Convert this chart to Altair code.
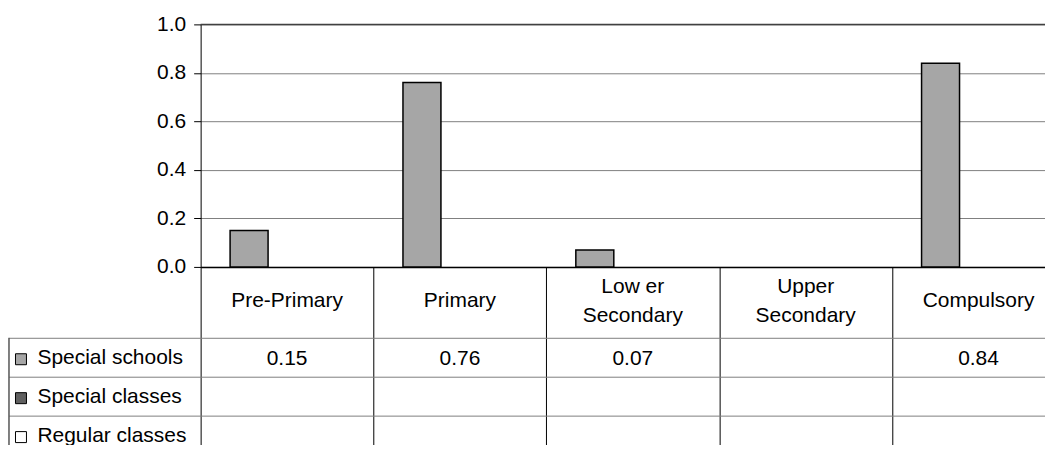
import altair as alt
import pandas as pd

categories = ["Pre-Primary", "Primary", "Low er\nSecondary", "Upper\nSecondary", "Compulsory"]
series_names = ["Special schools", "Special classes", "Regular classes"]
special_schools = [0.15, 0.76, 0.07, None, 0.84]
special_classes = [None, None, None, None, None]
regular_classes = [None, None, None, None, None]
y_ticks = [0.0, 0.2, 0.4, 0.6, 0.8, 1.0]
colors = ["#a6a6a6", "#606060", "#ffffff"]

rows = []
for name, vals in zip(series_names, [special_schools, special_classes, regular_classes]):
    for c, v in zip(categories, vals):
        rows.append({"category": c, "series": name, "value": v})
df = pd.DataFrame(rows)
cat_df = pd.DataFrame({"category": categories})
series_df = pd.DataFrame({"series": series_names})
one = pd.DataFrame({"a": [0]})

FONT = "Liberation Sans, Arial, sans-serif"
FS = 21
W = 866            # 5 columns of ~173 px (the page crops the last one)
H = 243
HEAD = 71          # height of the category header row
TH = 117           # 3 rows of 39 px (the page crops the last one)

xscale = alt.Scale(domain=categories, paddingInner=0, paddingOuter=0)
cscale = alt.Scale(domain=series_names, range=colors)

bars = alt.Chart(df).transform_filter("isValid(datum.value)").mark_bar(
    stroke="black", strokeWidth=1.5
).encode(
    x=alt.X("category:N", sort=categories, scale=xscale,
            axis=alt.Axis(title=None, labels=False, tickBand="extent", tickSize=HEAD,
                          tickColor="black", domainColor="black", domainWidth=1.5, grid=False)),
    xOffset=alt.XOffset("series:N", scale=alt.Scale(domain=series_names, paddingInner=0, paddingOuter=0.776)),
    y=alt.Y("value:Q", scale=alt.Scale(domain=[0, 1], nice=False),
            axis=alt.Axis(title=None, values=y_ticks, format=".1f", tickSize=7, labelPadding=8,
                          gridColor="#808080", domainColor="black", tickColor="black")),
    color=alt.Color("series:N", scale=cscale, legend=None),
)
topline = alt.Chart(one).mark_rule(color="#404040", strokeWidth=1.5).encode(y=alt.datum(1.0))

head_one = alt.Chart(cat_df).transform_filter("indexof(datum.category, '\\n') < 0").mark_text(
    font=FONT, fontSize=FS, color="black", baseline="middle"
).encode(
    x=alt.X("category:N", sort=categories, scale=xscale),
    y=alt.value(H + 34),
    text="category:N",
)
head_two = alt.Chart(cat_df).transform_filter("indexof(datum.category, '\\n') >= 0").mark_text(
    font=FONT, fontSize=FS, color="black", baseline="middle", lineBreak="\n", lineHeight=29
).encode(
    x=alt.X("category:N", sort=categories, scale=xscale),
    y=alt.value(H + 20),
    text="category:N",
)
top = alt.layer(bars, topline, head_one, head_two).properties(width=W, height=H)

yscale = alt.Scale(domain=series_names, paddingInner=0, paddingOuter=0)
texts = alt.Chart(df).transform_filter("isValid(datum.value)").mark_text(
    font=FONT, fontSize=FS, color="black", dy=2
).encode(
    x=alt.X("category:N", sort=categories, scale=xscale,
            axis=alt.Axis(title=None, labels=False, ticks=False, domain=False, grid=True,
                          tickBand="extent", gridColor="black")),
    y=alt.Y("series:N", sort=series_names, scale=yscale,
            axis=alt.Axis(title=None, tickBand="extent", tickSize=192, tickColor="#808080",
                          grid=True, gridColor="#808080", domain=False, labelAlign="left",
                          labelPadding=-28, labelBaseline="middle")),
    text=alt.Text("value:Q", format=".2f"),
)
squares = alt.Chart(series_df).mark_square(size=121, stroke="black", strokeWidth=1, opacity=1, yOffset=2).encode(
    x=alt.value(-180),
    y=alt.Y("series:N", sort=series_names, scale=yscale),
    color=alt.Color("series:N", scale=cscale, legend=None),
)
border = alt.Chart(one).mark_rule(color="black").encode(
    x=alt.value(-192), y=alt.value(0), y2=alt.value(TH)
)
bottom = alt.layer(texts, squares, border).properties(width=W, height=TH)

chart = alt.vconcat(top, bottom, spacing=HEAD, bounds="flush").properties(
    padding={"left": 0, "top": 5, "right": -21, "bottom": -11}
).configure_view(strokeWidth=0).configure_axis(
    labelFont=FONT, labelFontSize=FS, labelColor="black", labelFontWeight="normal"
)

chart.save("out.html", embed_options={"renderer": "svg", "actions": False})
